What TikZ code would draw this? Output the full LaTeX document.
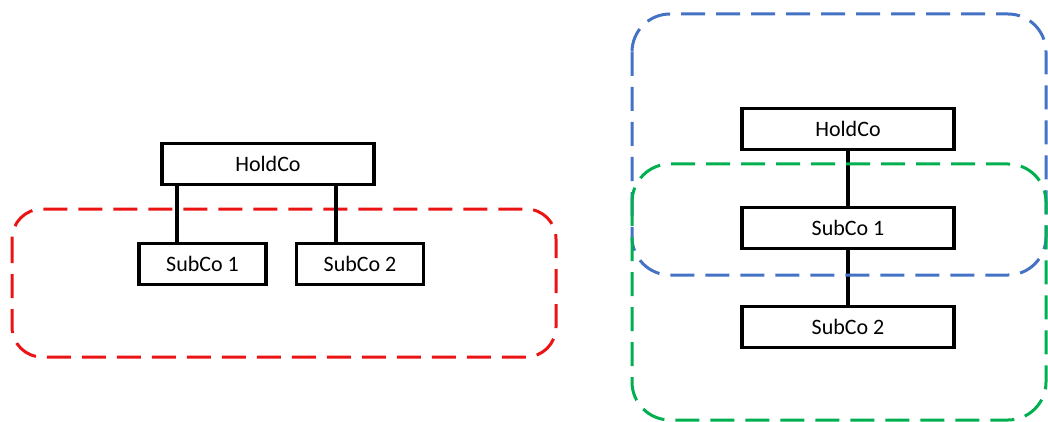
\documentclass[tikz,border=0pt]{standalone}
\usepackage{fontspec}
\setmainfont{Carlito}
\definecolor{grpred}{RGB}{235,20,20}
\definecolor{grpblue}{RGB}{68,114,196}
\definecolor{grpgreen}{RGB}{0,176,80}
\begin{document}
\begin{tikzpicture}[x=1pt,y=-1pt,
  entity/.style={draw=black,line width=3.2pt,fill=white,minimum width=212pt,inner sep=0pt,font=\fontsize{22}{26}\selectfont},
  link/.style={draw=black,line width=3.2pt},
  group/.style={line width=3pt,dash pattern=on 24pt off 11pt,rounded corners=#1},
  group/.default=36pt]
\useasboundingbox (0,0) rectangle (1048,422);

% left structure
\draw[group=30pt,grpred] (12,209) rectangle (556,357);
\node[entity,minimum height=41pt] (lh) at (268,164) {HoldCo};
\node[entity,minimum width=127pt,minimum height=41pt] (ls1) at (202.5,264) {SubCo 1};
\node[entity,minimum width=127pt,minimum height=41pt] (ls2) at (360,264) {SubCo 2};
\draw[link] (lh.south -| 177,0) -- (ls1.north -| 177,0);
\draw[link] (lh.south -| 336,0) -- (ls2.north -| 336,0);

% right structure
\node[entity,minimum height=41pt] (rh) at (848,129) {HoldCo};
\node[entity,minimum height=41pt] (rs1) at (848,228) {SubCo 1};
\node[entity,minimum height=41pt] (rs2) at (848,327) {SubCo 2};
\draw[link] (rh) -- (rs1);
\draw[link] (rs1) -- (rs2);
\draw[group=38pt,grpblue] (632,14) rectangle (1046,275);
\draw[group=38pt,grpgreen] (632,164) rectangle (1046,420);
\end{tikzpicture}
\end{document}
